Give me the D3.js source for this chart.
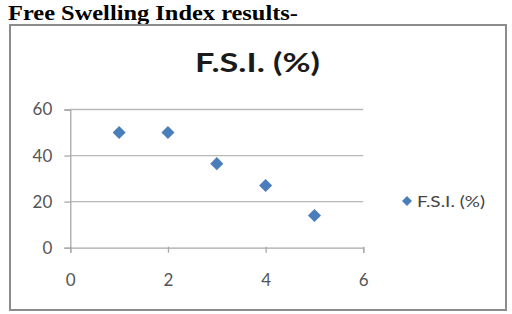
<!DOCTYPE html>
<html>
<head>
<meta charset="utf-8">
<script src="https://cdn.jsdelivr.net/npm/d3@7"></script>
<style>
body{margin:0;background:#fff;}
</style>
</head>
<body>
<div id="chart"></div>
<script>
var xValues = [1, 2, 3, 4, 5];
var fsiValues = [50, 50, 36.5, 27, 14];
var xTicks = [0, 2, 4, 6];
var yTicks = [0, 20, 40, 60];
var seriesName = "F.S.I. (%)";

var width = 512, height = 314;
var font = "Lato, Carlito, Open Sans, sans-serif";
var svg = d3.select("#chart").append("svg").attr("width", width).attr("height", height);

svg.append("text").attr("x", 8).attr("y", 20)
    .style("font-family", "Liberation Serif, Times New Roman, serif")
    .style("font-weight", "bold").style("font-size", "22px")
    .attr("textLength", 290).attr("lengthAdjust", "spacingAndGlyphs")
    .text("Free Swelling Index results-");

// chart frame
svg.append("rect").attr("x", 10).attr("y", 25).attr("width", 496).attr("height", 285)
    .attr("fill", "#fff").attr("stroke", "#8c8c8c").attr("stroke-width", 2);

svg.append("text").attr("x", 195).attr("y", 72)
    .style("font-family", font)
    .style("font-weight", "bold").style("font-size", "26px").attr("fill", "#1a1a1a")
    .attr("textLength", 125).attr("lengthAdjust", "spacingAndGlyphs")
    .text(seriesName);

var xs = d3.scaleLinear().domain([0, 6]).range([70.3, 363.3]);
var ys = d3.scaleLinear().domain([0, 60]).range([247.7, 109.5]);

var grid = svg.append("g");
grid.selectAll("line.grid").data(yTicks.filter(function(d){return d > 0;})).enter().append("line")
    .attr("x1", xs(0)).attr("x2", xs(6))
    .attr("y1", function(d){return ys(d);}).attr("y2", function(d){return ys(d);})
    .attr("stroke", "#b8b8b8").attr("stroke-width", 1.3);

var yAxis = svg.append("g").attr("transform", "translate(" + xs(0) + ",0)")
    .call(d3.axisLeft(ys).tickValues(yTicks).tickFormat(d3.format("d")).tickSize(6).tickPadding(12));
var xAxis = svg.append("g").attr("transform", "translate(0," + ys(0) + ")")
    .call(d3.axisBottom(xs).tickValues(xTicks).tickFormat(d3.format("d")).tickSize(5).tickPadding(21));

[yAxis, xAxis].forEach(function(a){
    a.select(".domain").attr("stroke", "#a8a8a8").attr("stroke-width", 1.3);
    a.selectAll(".tick line").attr("stroke", "#a8a8a8").attr("stroke-width", 1.3);
    a.selectAll(".tick text").attr("fill", "#555")
        .style("font-family", font)
        .style("font-size", "17px");
});
xAxis.selectAll(".tick line").attr("y1", -1);

var marker = d3.symbol().type(d3.symbolSquare).size(85);
var pts = xValues.map(function(x, i){return {x: x, y: fsiValues[i]};});
svg.selectAll("path.pt").data(pts).enter().append("path")
    .attr("class", "pt")
    .attr("d", marker)
    .attr("transform", function(d){return "translate(" + xs(d.x) + "," + ys(d.y) + ") rotate(45)";})
    .attr("fill", "#4a7ebb");

// legend
svg.append("path").attr("d", d3.symbol().type(d3.symbolSquare).size(50))
    .attr("transform", "translate(407,201) rotate(45)").attr("fill", "#4a7ebb");
svg.append("text").attr("x", 417).attr("y", 206.5)
    .style("font-family", font)
    .style("font-size", "16px").attr("fill", "#444")
    .attr("textLength", 68).attr("lengthAdjust", "spacingAndGlyphs")
    .text(seriesName);
</script>
</body>
</html>
